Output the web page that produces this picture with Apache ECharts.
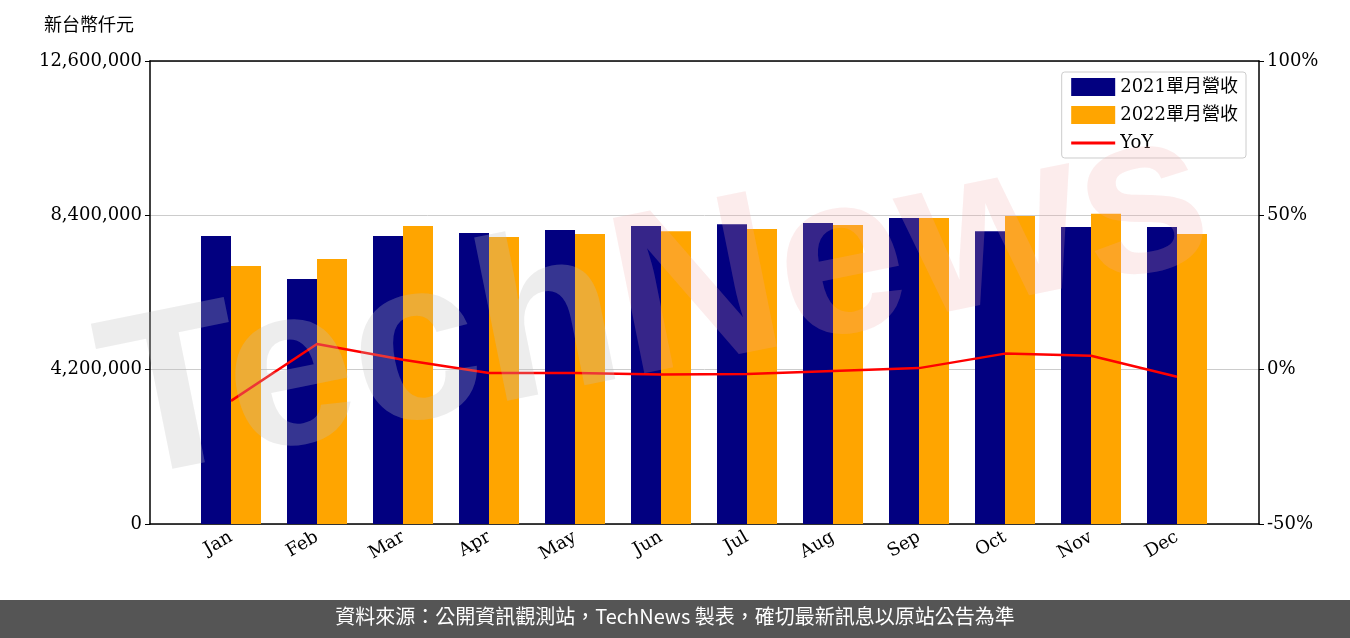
<!DOCTYPE html>
<html><head><meta charset="utf-8">
<script src="https://cdn.jsdelivr.net/npm/echarts@6/dist/echarts.min.js"></script>
<style>html,body{margin:0;padding:0;background:#fff}#c{width:1350px;height:638px}</style>
</head><body><div id="c"></div>
<script>
const months = ['Jan','Feb','Mar','Apr','May','Jun','Jul','Aug','Sep','Oct','Nov','Dec'];
const rev2021 = [7840000,6670000,7840000,7920000,8000000,8110000,8160000,8190000,8330000,7970000,8080000,8080000];
const rev2022 = [7020000,7210000,8110000,7810000,7890000,7970000,8030000,8140000,8330000,8380000,8440000,7890000];
const yoy = [-10.1,8.3,3.2,-1.1,-1.1,-1.6,-1.4,-0.4,0.5,5.2,4.5,-2.3];
const font = "'DejaVu Serif','Noto Sans CJK TC',serif";

const chart = echarts.init(document.getElementById('c'));
const ax = {onZero: false, lineStyle: {color: '#000', width: 1.5}};
chart.setOption({
  animation: false,
  textStyle: {fontFamily: font},
  grid: [
    {left: 150, right: 91, top: 61, bottom: 114},
    {left: 188, right: 130, top: 61, bottom: 114}
  ],
  legend: {
    right: 104, top: 72, orient: 'vertical', itemGap: 10, itemWidth: 44, itemHeight: 18,
    borderColor: '#ccc', borderWidth: 1, borderRadius: 3, padding: [6, 8, 6, 8],
    textStyle: {fontSize: 18, color: '#000', fontFamily: font},
    data: [{name: '2021單月營收', icon: 'rect'}, {name: '2022單月營收', icon: 'rect'},
           {name: 'YoY', itemStyle: {opacity: 0}, lineStyle: {width: 3}}]
  },
  graphic: [
    {type: 'text', left: 44, top: 17, style: {text: '新台幣仟元', fontSize: 18, fill: '#000', fontFamily: font}},
    {type: 'text', x: 130, y: 530, rotation: 0.2, z: 100,
     style: {text: '{a|Tech}{b|News}', verticalAlign: 'bottom', fontSize: 230, fontWeight: 'bold', fontFamily: 'DejaVu Sans',
       rich: {a: {fontSize: 230, fontWeight: 'bold', fill: 'rgba(190,190,190,0.28)'},
              b: {fontSize: 230, fontWeight: 'bold', fill: 'rgba(240,170,170,0.22)'}}}},
    {type: 'rect', shape: {x: 0, y: 600, width: 1350, height: 38}, style: {fill: '#555'}},
    {type: 'text', left: 'center', top: 606, style: {text: '資料來源：公開資訊觀測站，TechNews 製表，確切最新訊息以原站公告為準', fontSize: 20, fill: '#fff', fontFamily: 'Noto Sans CJK TC'}}
  ],
  xAxis: [
    {gridIndex: 0, type: 'value', min: 0, max: 1, axisLine: ax, axisTick: {show: false}, axisLabel: {show: false}, splitLine: {show: false}},
    {gridIndex: 0, type: 'value', position: 'top', min: 0, max: 1, axisLine: ax, axisTick: {show: false}, axisLabel: {show: false}, splitLine: {show: false}},
    {gridIndex: 1, type: 'category', data: months,
     axisLine: {show: false},
     axisTick: {alignWithLabel: true, length: 5, lineStyle: {color: '#000'}},
     axisLabel: {rotate: 30, fontSize: 18, color: '#000', margin: 12, fontFamily: font}}
  ],
  yAxis: [{
    gridIndex: 0, type: 'value', min: 0, max: 12600000, interval: 4200000,
    axisLine: {show: true, ...ax},
    axisTick: {show: true, length: 5, lineStyle: {color: '#000'}},
    splitLine: {lineStyle: {color: '#ccc'}},
    axisLabel: {fontSize: 18, color: '#000', fontFamily: font, formatter: v => v.toLocaleString('en-US')}
  }, {
    gridIndex: 0, type: 'value', min: -50, max: 100, interval: 50, position: 'right',
    axisLine: {show: true, ...ax},
    axisTick: {show: true, length: 5, lineStyle: {color: '#000'}},
    splitLine: {show: false},
    axisLabel: {fontSize: 18, color: '#000', fontFamily: font, formatter: '{value}%'}
  }, {
    gridIndex: 1, type: 'value', min: 0, max: 12600000, show: false
  }, {
    gridIndex: 1, type: 'value', min: -50, max: 100, show: false
  }],
  series: [
    {name: '2021單月營收', type: 'bar', xAxisIndex: 2, yAxisIndex: 2, data: rev2021, barWidth: 30, barGap: '0%', itemStyle: {color: '#020080'}},
    {name: '2022單月營收', type: 'bar', xAxisIndex: 2, yAxisIndex: 2, data: rev2022, barWidth: 30, itemStyle: {color: '#FFA500'}},
    {name: 'YoY', type: 'line', xAxisIndex: 2, yAxisIndex: 3, data: yoy, symbol: 'none', lineStyle: {color: '#FF0000', width: 2.5}, itemStyle: {color: '#FF0000'}, z: 5}
  ]
});
</script></body></html>
